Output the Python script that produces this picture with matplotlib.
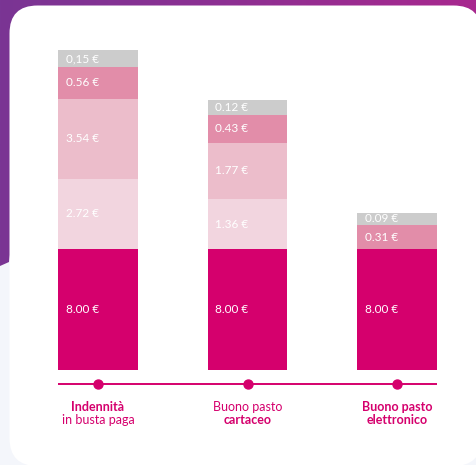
import numpy as np
import matplotlib
matplotlib.use("Agg")
import matplotlib.pyplot as plt
from matplotlib.patches import FancyBboxPatch, Polygon
from matplotlib.colors import LinearSegmentedColormap

# ---- data ----
cat_line1 = ["Indennità", "Buono pasto", "Buono pasto"]
cat_line2 = ["in busta paga", "cartaceo", "elettronico"]
line1_bold = [True, False, True]
line2_bold = [False, True, True]

base_vals = [8.00, 8.00, 8.00]
seg1_vals = [2.72, 1.36, 0.0]
seg2_vals = [3.54, 1.77, 0.0]
seg3_vals = [0.56, 0.43, 0.31]
seg4_vals = [0.15, 0.12, 0.09]

base_labels = ["8.00 €", "8.00 €", "8.00 €"]
seg1_labels = ["2.72 €", "1.36 €", ""]
seg2_labels = ["3.54 €", "1.77 €", ""]
seg3_labels = ["0.56 €", "0.43 €", "0.31 €"]
seg4_labels = ["0,15 €", "0.12 €", "0.09 €"]

series = [base_vals, seg1_vals, seg2_vals, seg3_vals, seg4_vals]
series_labels = [base_labels, seg1_labels, seg2_labels, seg3_labels, seg4_labels]
colors = ["#d5006d", "#f2d5df", "#ecbdcb", "#e28da9", "#cccccc"]
MAGENTA = "#d5006d"

W, H = 476, 465
fig = plt.figure(figsize=(W / 100, H / 100), dpi=100)
fig.patch.set_facecolor("#f4f6fb")

# ---- background decoration ----
bg = fig.add_axes([0, 0, 1, 1])
bg.set_xlim(0, W)
bg.set_ylim(H, 0)
bg.axis("off")
cmap = LinearSegmentedColormap.from_list("purp", ["#7a3594", "#8e2f92", "#a8288e"])
grad = np.linspace(0, 1, 256).reshape(1, -1)
im = bg.imshow(grad, cmap=cmap, extent=[0, W, H, 0], aspect="auto", zorder=1)
poly = Polygon([(0, 0), (W, 0), (W, 40), (40, 40), (9, 262), (0, 266)],
               closed=True, transform=bg.transData, facecolor="none", edgecolor="none")
bg.add_patch(poly)
im.set_clip_path(poly)
card = FancyBboxPatch((9.5, 5.5), 472, 460.5,
                      boxstyle="round,pad=0,rounding_size=28",
                      facecolor="white", edgecolor="none", zorder=3)
bg.add_patch(card)

# ---- chart ----
PX = 42.6  # pixels per sqrt-unit
ax_left, ax_right = 58, 437
ax_top, ax_bottom = 40, 415
zero_px = 369.5
ax = fig.add_axes([ax_left / W, (H - ax_bottom) / H,
                   (ax_right - ax_left) / W, (ax_bottom - ax_top) / H])
ax.patch.set_alpha(0)
ax.axis("off")
x = np.arange(len(cat_line1))
width = 0.535
ax.set_xlim(-width / 2, 2 + width / 2)
ax.set_ylim(-(ax_bottom - zero_px) / PX, (zero_px - ax_top) / PX)

bottom = np.zeros(len(x))
for vals, labs, col in zip(series, series_labels, colors):
    vals = np.asarray(vals)
    h = np.sqrt(vals)
    ax.bar(x, h, width=width, bottom=bottom, color=col, edgecolor="none", zorder=2)
    for xi, bi, hi, lab in zip(x, bottom, h, labs):
        if hi > 0 and lab:
            ax.text(xi - width / 2 + 0.053, bi + hi / 2, lab, color="white",
                    fontsize=8.5, family="Lato", ha="left", va="center", zorder=3)
    bottom = bottom + h

line_y = -(384 - zero_px) / PX
ax.plot([-width / 2, 2 + width / 2], [line_y, line_y], color=MAGENTA, lw=1.4,
        solid_capstyle="butt", zorder=2)
ax.scatter(x, [line_y] * len(x), s=42, color=MAGENTA, zorder=3, clip_on=False)

for xi, l1, l2, b1, b2 in zip(x, cat_line1, cat_line2, line1_bold, line2_bold):
    ax.text(xi, -(406.5 - zero_px) / PX, l1, color=MAGENTA, fontsize=9, family="Lato",
            fontweight="bold" if b1 else "normal", ha="center", va="center", clip_on=False)
    ax.text(xi, -(420 - zero_px) / PX, l2, color=MAGENTA, fontsize=9, family="Lato",
            fontweight="bold" if b2 else "normal", ha="center", va="center", clip_on=False)

fig.savefig("out.png", dpi=100)
